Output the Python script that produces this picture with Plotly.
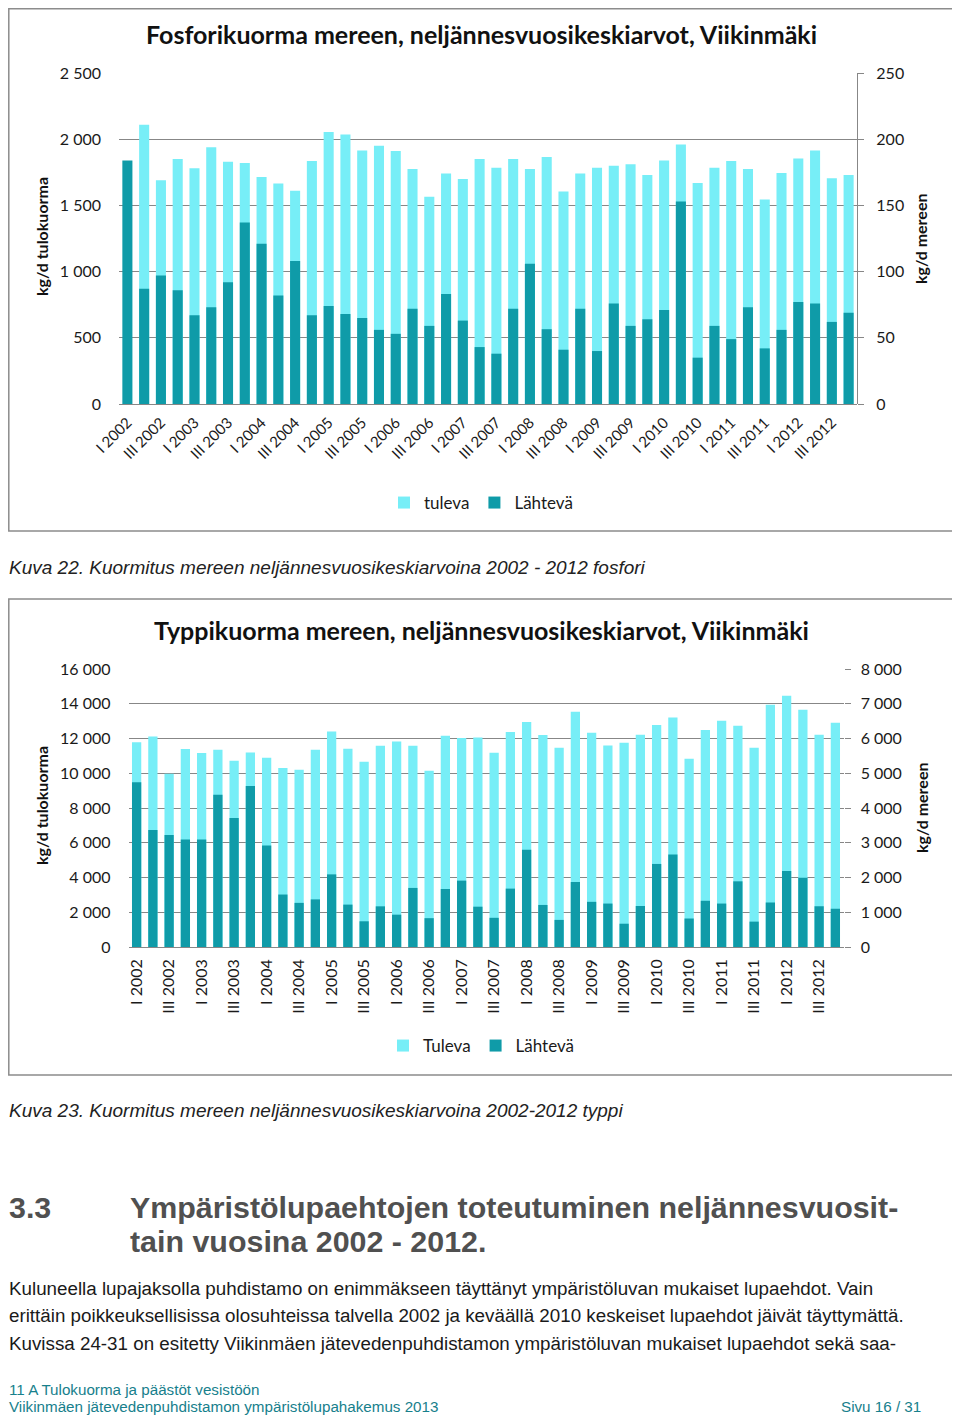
import plotly.graph_objects as go

# ---------------- data ----------------
years = list(range(2002, 2013))
roman = ["I", "II", "III", "IV"]
quarters = [f"{r} {y}" for y in years for r in roman]
shown_ticks = [q for q in quarters if q.split()[0] in ("I", "III")]

# Phosphorus (kg/d)
P_tuleva = [None, 2110, 1690, 1850, 1780, 1940, 1830, 1820, 1715, 1665, 1610,
            1835, 2055, 2035, 1915, 1950, 1910, 1775, 1565, 1740, 1700, 1850,
            1785, 1850, 1775, 1865, 1605, 1740, 1785, 1800, 1810, 1730, 1840,
            1960, 1670, 1785, 1835, 1775, 1545, 1745, 1855, 1915, 1705, 1730]
P_lahteva = [184, 87, 97, 86, 67, 73, 92, 137, 121, 82, 108,
             67, 74, 68, 65, 56, 53, 72, 59, 83, 63, 43,
             38, 72, 106, 56.5, 41, 72, 40, 76, 59, 64, 71,
             153, 35, 59, 49, 73, 42, 56, 77, 76, 62, 69]

# Nitrogen (kg/d)
N_tuleva = [11780, 12120, 9970, 11390, 11160, 11350, 10720, 11200, 10890, 10300, 10200,
            11350, 12410, 11410, 10660, 11580, 11830, 11580, 10150, 12160, 12030, 12060,
            11180, 12370, 12950, 12200, 11470, 13540, 12330, 11600, 11760, 12220, 12770,
            13210, 10840, 12490, 13020, 12740, 11470, 13940, 14460, 13660, 12220, 12910]
N_lahteva = [4740, 3370, 3220, 3090, 3090, 4380, 3710, 4630, 2920, 1510, 1270,
             1370, 2090, 1220, 740, 1170, 930, 1700, 830, 1670, 1910, 1160,
             840, 1680, 2800, 1210, 780, 1870, 1300, 1250, 670, 1180, 2390,
             2660, 820, 1330, 1250, 1890, 730, 1280, 2190, 1990, 1170, 1100]

# ---------------- styling ----------------
OFF = 8                      # the page body adds an 8px margin
W, H = 960 - OFF, 1419 - OFF
LIGHT = "#77EEF7"
DARK = "#0F9BA8"
GRID = "#878787"
FONT = "Lato"
TXT = "#1a1a1a"


def px(x):
    return (x - OFF) / W


def py(y):
    return 1 - (y - OFF) / H


fig = go.Figure()
fig.add_bar(x=quarters, y=P_tuleva, name="tuleva", xaxis="x", yaxis="y",
            marker=dict(color=LIGHT, line=dict(width=0)), width=0.6, legend="legend")
fig.add_bar(x=quarters, y=P_lahteva, name="Lähtevä", xaxis="x", yaxis="y2",
            marker=dict(color=DARK, line=dict(width=0)), width=0.6, legend="legend")
fig.add_bar(x=quarters, y=N_tuleva, name="Tuleva", xaxis="x2", yaxis="y3",
            marker=dict(color=LIGHT, line=dict(width=0)), width=0.57, legend="legend2")
fig.add_bar(x=quarters, y=N_lahteva, name="Lähtevä", xaxis="x2", yaxis="y4",
            marker=dict(color=DARK, line=dict(width=0)), width=0.57, legend="legend2")

tickfont = dict(family=FONT, size=16, color=TXT)

common_x = dict(type="category", tickmode="array", tickvals=shown_ticks, ticktext=shown_ticks,
                showgrid=False, showline=False, ticks="", zeroline=False, automargin=False,
                fixedrange=True)

legfont = dict(family=FONT, size=17, color=TXT)

fig.update_layout(
    width=W, height=H, margin=dict(l=0, r=0, t=0, b=0, pad=0, autoexpand=False),
    paper_bgcolor="white", plot_bgcolor="white",
    barmode="overlay", separators=". ",
    xaxis=dict(domain=[px(119), px(857)], anchor="y", tickangle=-45,
               ticklabelstandoff=6, tickfont=dict(family=FONT, size=15, color=TXT), **common_x),
    yaxis=dict(domain=[py(404), py(73)], anchor="x", range=[0, 2500], dtick=500,
               tickformat=",d", showgrid=True, gridcolor=GRID, gridwidth=1.3,
               zeroline=True, zerolinecolor=GRID, zerolinewidth=1.3, automargin=False,
               ticks="", ticklabelstandoff=17, tickfont=tickfont, fixedrange=True),
    yaxis2=dict(overlaying="y", side="right", anchor="x", range=[0, 250], dtick=50,
                showgrid=False, zeroline=False, showline=True, linecolor=GRID, linewidth=1.3,
                ticks="outside", ticklen=6, tickcolor=GRID, tickwidth=1.3, automargin=False,
                ticklabelstandoff=9, tickfont=tickfont, fixedrange=True),
    xaxis2=dict(domain=[px(128.5), px(843.5)], anchor="y3", tickangle=-90,
                ticklabelstandoff=8, tickfont=dict(family=FONT, size=16, color=TXT), **common_x),
    yaxis3=dict(domain=[py(947), py(669)], anchor="x2", range=[0, 16000], dtick=2000,
                tickformat=",d", showgrid=True, gridcolor=GRID, gridwidth=1.3,
                zeroline=True, zerolinecolor=GRID, zerolinewidth=1.3, automargin=False,
                ticks="", ticklabelstandoff=17, tickfont=tickfont, fixedrange=True),
    yaxis4=dict(overlaying="y3", side="right", anchor="x2", range=[0, 8000], dtick=1000,
                tickformat=",d", showgrid=False, zeroline=False, showline=False,
                ticks="outside", ticklen=6, tickcolor=GRID, tickwidth=1.3, automargin=False,
                ticklabelstandoff=7, tickfont=tickfont, fixedrange=True),
    legend=dict(orientation="h", x=px(481), xanchor="center", y=py(503), yanchor="middle",
                font=legfont, itemwidth=30, bgcolor="rgba(0,0,0,0)"),
    legend2=dict(orientation="h", x=px(481), xanchor="center", y=py(1046), yanchor="middle",
                 font=legfont, itemwidth=30, bgcolor="rgba(0,0,0,0)"),
    showlegend=True,
)

# frames around charts (clamped to the drawable page area)
FR_L = OFF + 0.8
for (y0, y1) in [(OFF + 0.8, 531), (599, 1075)]:
    fig.add_shape(type="rect", xref="paper", yref="paper",
                  x0=px(FR_L), x1=px(956.5), y0=py(y1), y1=py(y0),
                  line=dict(color="#8c8c8c", width=1.5), fillcolor="rgba(0,0,0,0)")

ann = []
# chart titles
ann.append(dict(text="<b>Fosforikuorma mereen, neljännesvuosikeskiarvot, Viikinmäki</b>",
                x=px(481), y=py(34), font=dict(family=FONT, size=25, color="#111")))
ann.append(dict(text="<b>Typpikuorma mereen, neljännesvuosikeskiarvot, Viikinmäki</b>",
                x=px(481), y=py(630), font=dict(family=FONT, size=25, color="#111")))
# axis titles
for yc in (237, 806):
    ann.append(dict(text="<b>kg/d tulokuorma</b>", x=px(41), y=py(yc), textangle=-90,
                    font=dict(family=FONT, size=16, color="#111")))
    ann.append(dict(text="<b>kg/d mereen</b>", x=px(921), y=py(yc + 2), textangle=-90,
                    font=dict(family=FONT, size=16, color="#111")))

SANS = "Liberation Sans"
LX = OFF + 0.5   # left text edge
TP = dict(xanchor="left", borderpad=0, borderwidth=0)
# captions
CAP = dict(family=SANS, size=19, color="#222")
ann.append(dict(text="<i>Kuva 22. Kuormitus mereen neljännesvuosikeskiarvoina 2002 - 2012 fosfori</i>",
                x=px(LX), y=py(567), font=CAP, **TP))
ann.append(dict(text="<i>Kuva 23. Kuormitus mereen neljännesvuosikeskiarvoina 2002-2012 typpi</i>",
                x=px(LX), y=py(1110), font=CAP, **TP))
# heading
HEAD = dict(family=SANS, size=30.4, color="#505050")
ann.append(dict(text="<b>3.3</b>", x=px(LX), y=py(1207), font=HEAD, **TP))
ann.append(dict(text="<b>Ympäristölupaehtojen toteutuminen neljännesvuosit-</b>",
                x=px(130), y=py(1207), font=HEAD, **TP))
ann.append(dict(text="<b>tain vuosina 2002 - 2012.</b>",
                x=px(130), y=py(1241), font=HEAD, **TP))
# body
BODY = dict(family=SANS, size=18.8, color="#1a1a1a")
body_lines = [
    "Kuluneella lupajaksolla puhdistamo on enimmäkseen täyttänyt ympäristöluvan mukaiset lupaehdot. Vain",
    "erittäin poikkeuksellisissa olosuhteissa talvella 2002 ja keväällä 2010 keskeiset lupaehdot jäivät täyttymättä.",
    "Kuvissa 24-31 on esitetty Viikinmäen jätevedenpuhdistamon ympäristöluvan mukaiset lupaehdot sekä saa-",
]
for i, line in enumerate(body_lines):
    ann.append(dict(text=line, x=px(LX), y=py(1288 + i * 27.5), font=BODY, **TP))
# footer
FOOT = dict(family=SANS, size=15.2, color="#17808c")
ann.append(dict(text="11 A Tulokuorma ja päästöt vesistöön", x=px(LX), y=py(1389),
                font=FOOT, **TP))
ann.append(dict(text="Viikinmäen jätevedenpuhdistamon ympäristölupahakemus 2013", x=px(LX), y=py(1406),
                font=FOOT, **TP))
ann.append(dict(text="Sivu 16 / 31", x=px(921), y=py(1406), xanchor="right", font=FOOT,
                borderpad=0, borderwidth=0))

for a in ann:
    a.setdefault("xref", "paper")
    a.setdefault("yref", "paper")
    a.setdefault("showarrow", False)
    a.setdefault("yanchor", "middle")
    a.setdefault("xanchor", "center")
    fig.add_annotation(**a)

fig.write_html("out.html")
